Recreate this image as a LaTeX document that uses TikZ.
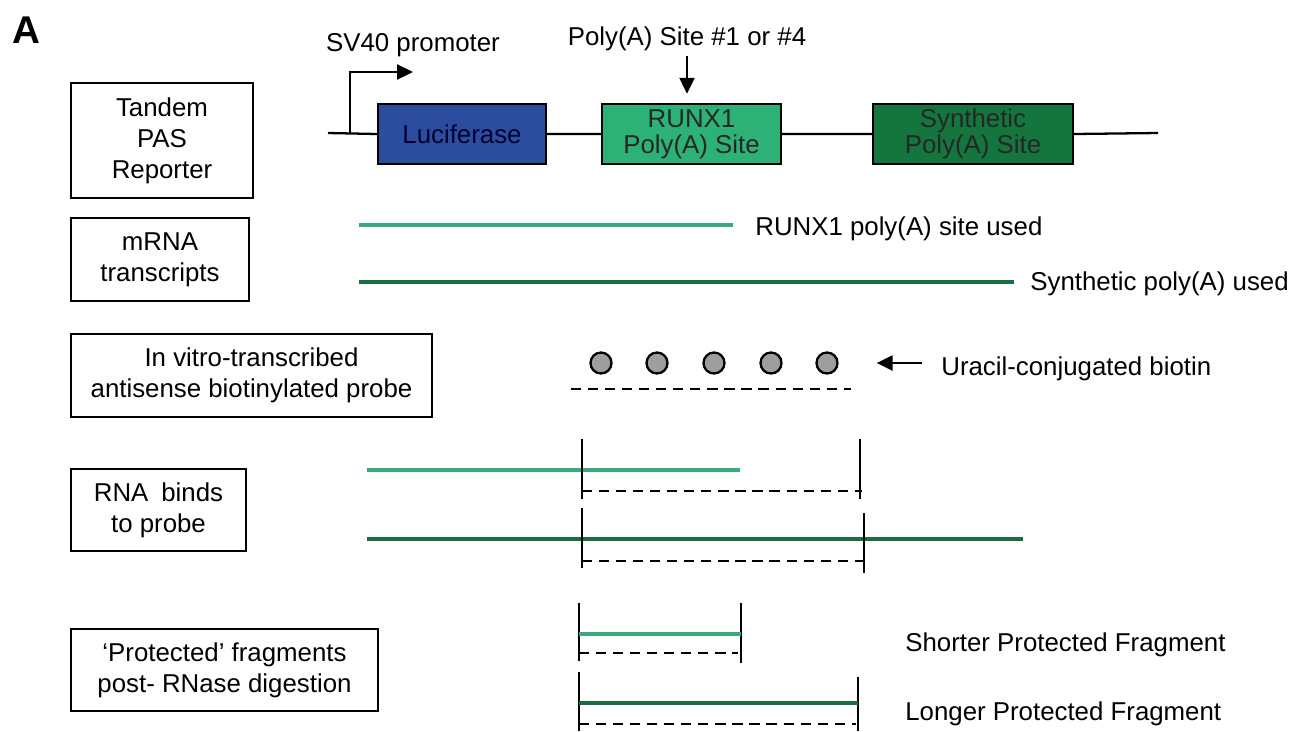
\documentclass[tikz,border=0pt]{standalone}
\usepackage{fontspec}
\setmainfont{Liberation Sans}
\usepackage{xcolor}
\usepackage{tikz}
\usetikzlibrary{arrows.meta, positioning}

\definecolor{lucblue}{RGB}{44,76,158}
\definecolor{runxfill}{RGB}{44,178,118}
\definecolor{synthfill}{RGB}{20,118,62}
\definecolor{runxline}{RGB}{58,170,124}
\definecolor{synthline}{RGB}{28,108,66}

\begin{document}
\begin{tikzpicture}[x=0.02cm, y=-0.02cm,
  stage/.style={draw, rectangle, line width=1.4pt, align=center, inner sep=0pt, font=\fontsize{14.7}{17.6}\selectfont},
  gene/.style={draw, rectangle, line width=1.4pt, minimum height=1.2cm, align=center, inner sep=0pt, font=\fontsize{14.7}{15}\selectfont},
  note/.style={anchor=base west, inner sep=0pt, font=\fontsize{14.7}{17.6}\selectfont},
  arrow/.style={-{Triangle[length=0.32cm, width=0.3cm]}, line width=1.3pt},
  biotin/.style={draw, circle, line width=1.3pt, fill=black!38, minimum size=0.42cm, inner sep=0pt},
  runx/.style={line width=2.3pt, runxline},
  synth/.style={line width=2.3pt, synthline},
  probe/.style={line width=1.4pt, dash pattern=on 5.8pt off 3.9pt},
  cut/.style={line width=1.4pt}
]
\useasboundingbox (0,0) rectangle (1292,731);

\node[inner sep=0pt, font=\fontsize{22}{24}\selectfont\bfseries] (panel) at (26,30) {A};

% left column
\node[stage, minimum width=3.64cm, minimum height=2.3cm] (reporter) at (162,140.5) {Tandem\\PAS\\Reporter};
\node[stage, minimum width=3.56cm, minimum height=1.66cm] (mrna) at (160,259.5) {mRNA\\transcripts};
\node[stage, minimum width=7.22cm, minimum height=1.66cm] (ivt) at (251.5,375.5) {In vitro-transcribed\\antisense biotinylated probe};
\node[stage, minimum width=3.5cm, minimum height=1.64cm] (binds) at (158.5,510) {RNA\hspace{0.5em}binds\\to probe};
\node[stage, minimum width=6.14cm, minimum height=1.64cm] (protected) at (224.5,670) {`Protected' fragments\\post- RNase digestion};

% reporter construct
\node[gene, fill=lucblue, text=black!80!blue, minimum width=3.36cm] (luc) at (462,134) {Luciferase};
\node[gene, fill=runxfill, text=black!85, minimum width=3.58cm] (runx1) at (691.5,134) {RUNX1\\Poly(A) Site};
\node[gene, fill=synthfill, text=black!85, minimum width=4cm] (synpas) at (973,134) {Synthetic\\Poly(A) Site};
\coordinate (gene_start) at (328,133);
\coordinate (gene_end) at (1158,133);
\coordinate (prom_base) at (350,133);
\coordinate (prom_tip) at (413,72);
\draw[line width=1.3pt] (gene_start) -- (luc.west) (luc.east) -- (runx1.west) (runx1.east) -- (synpas.west) (synpas.east) -- (gene_end);
\draw[arrow] (prom_base) |- (prom_tip);
\node[note, anchor=base] (sv40) at (413,51) {SV40 promoter};
\node[note, anchor=base] (site_lbl) at (687,45) {Poly(A) Site {\#}1 or {\#}4};
\draw[arrow, shorten <=0.11cm, shorten >=0.18cm] (site_lbl.south) -- (site_lbl.south |- runx1.north);

% transcripts
\draw[runx] (359,225) -- (733,225);
\draw[synth] (359,282) -- (1014,282);
\node[note] (runx_used) at (755,235) {RUNX1 poly(A) site used};
\node[note] (synth_used) at (1030,290) {Synthetic poly(A) used};

% probe
\foreach \i/\x in {1/601,2/657,3/714,4/771,5/827}
  \node[biotin] (bio\i) at (\x,363) {};
\draw[probe] (571,389) -- (851,389);
\node[note] (uracil) at (941,375) {Uracil-conjugated biotin};
\draw[arrow, shorten <=0.38cm] (uracil.west |- bio5.east) -- ([xshift=0.76cm]bio5.east);

% hybridisation
\draw[runx] (367,470) -- (740,470);
\draw[cut] (582,439) -- (582,499) (860,439) -- (860,499);
\draw[probe] (582,491) -- (862,491);
\draw[synth] (367,539) -- (1023,539);
\draw[cut] (582,508) -- (582,568) (864,513) -- (864,573);
\draw[probe] (582,561) -- (864,561);

% protected fragments
\draw[cut] (579,603) -- (579,661) (741,603) -- (741,663);
\draw[runx] (579,634) -- (741,634);
\draw[probe] (579,653) -- (738,653);
\draw[cut] (579,672) -- (579,731) (858,677) -- (858,731);
\draw[synth] (579,703) -- (858,703);
\draw[probe] (579,724) -- (856,724);
\node[note] (short_frag) at (905,651) {Shorter Protected Fragment};
\node[note] (long_frag) at (905,720) {Longer Protected Fragment};

\end{tikzpicture}
\end{document}
